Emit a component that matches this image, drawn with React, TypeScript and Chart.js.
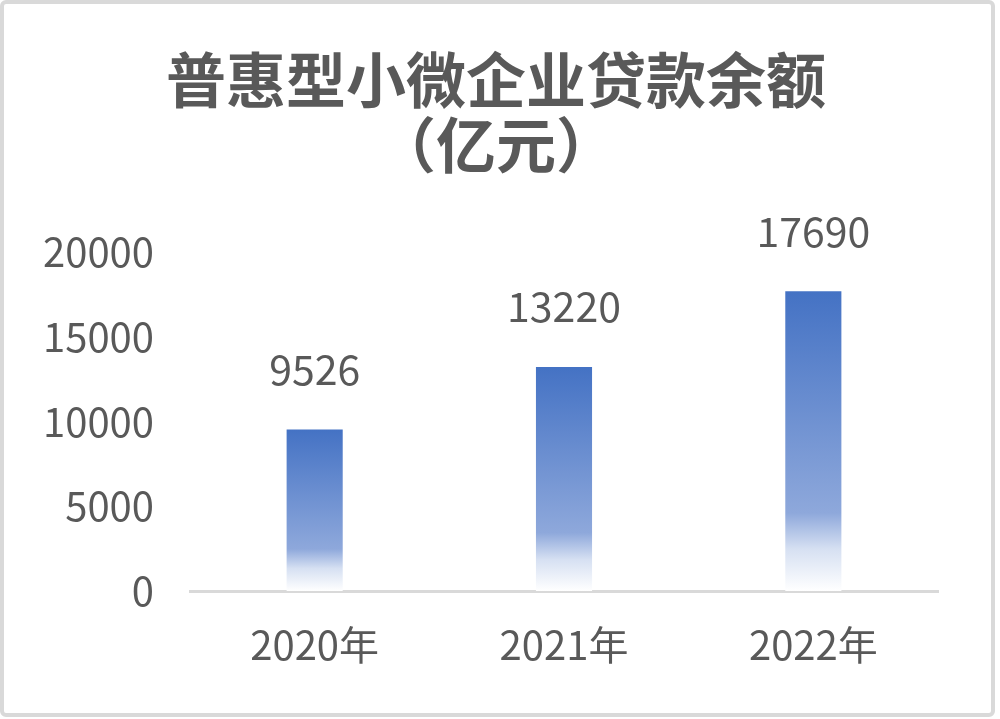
import { useEffect, useRef } from 'react';
import { Chart, registerables } from 'chart.js';

Chart.register(...registerables);

const years = ['2020年', '2021年', '2022年'];
const balances = [9526, 13220, 17690];
const yTicks = [0, 5000, 10000, 15000, 20000];
const titleLines = ['普惠型小微企业贷款余额', '（亿元）'];

const FONT = '"Noto Sans CJK SC", "Noto Sans", sans-serif';
const TEXT = '#595959';

// 画外框和标题
const framePlugin = {
  id: 'frame',
  beforeDraw(chart: Chart) {
    const { ctx, width, height } = chart;
    ctx.save();
    ctx.fillStyle = '#ffffff';
    ctx.fillRect(0, 0, width, height);
    ctx.strokeStyle = '#d9d9d9';
    ctx.lineWidth = 4;
    ctx.beginPath();
    ctx.roundRect(2, 2, 991, 713, 4);
    ctx.stroke();
    ctx.fillStyle = TEXT;
    ctx.textAlign = 'center';
    ctx.textBaseline = 'middle';
    ctx.font = `bold 60px ${FONT}`;
    ctx.fillText(titleLines[0], 496, 80);
    ctx.fillText(titleLines[1], 496, 145);
    ctx.restore();
  },
};

// 柱子上方的数值
const valueLabels = {
  id: 'valueLabels',
  afterDatasetsDraw(chart: Chart) {
    const { ctx } = chart;
    const meta = chart.getDatasetMeta(0);
    ctx.save();
    ctx.fillStyle = TEXT;
    ctx.textAlign = 'center';
    ctx.textBaseline = 'middle';
    ctx.font = `41px ${FONT}`;
    meta.data.forEach((bar: any, i: number) => {
      ctx.fillText(String(balances[i]), bar.x, bar.y - 60);
    });
    ctx.restore();
  },
};

const App = () => {
  const chartRef = useRef<HTMLCanvasElement>(null);
  const chartInstance = useRef<Chart | null>(null);

  useEffect(() => {
    document.body.style.margin = '0';
    if (!chartRef.current) return;
    if (chartInstance.current) chartInstance.current.destroy();
    const ctx = chartRef.current.getContext('2d');
    if (!ctx) return;

    chartInstance.current = new Chart(ctx, {
      type: 'bar',
      data: {
        labels: years,
        datasets: [
          {
            data: balances,
            categoryPercentage: 1,
            barPercentage: 0.225,
            backgroundColor: (c: any) => {
              const chart = c.chart;
              const y = chart.scales?.y;
              if (!y || c.raw == null) return '#4472C4';
              const top = y.getPixelForValue(c.raw);
              const bottom = y.getPixelForValue(0);
              if (!isFinite(top) || !isFinite(bottom) || bottom <= top) return '#4472C4';
              const g = chart.ctx.createLinearGradient(0, top, 0, bottom);
              g.addColorStop(0, '#4472C4');
              g.addColorStop(0.74, '#8EA8DB');
              g.addColorStop(0.86, '#D6E0F2');
              g.addColorStop(1, '#FFFFFF');
              return g;
            },
          },
        ],
      },
      options: {
        responsive: false,
        animation: false,
        layout: { padding: { top: 252, right: 62, left: 0, bottom: 0 } },
        plugins: {
          legend: { display: false },
          tooltip: { enabled: false },
        },
        scales: {
          x: {
            grid: { display: false },
            border: { color: '#d9d9d9', width: 3 },
            ticks: { color: TEXT, font: { family: FONT, size: 40 }, padding: 22 },
            afterFit: (scale: any) => {
              scale.height = 128;
            },
          },
          y: {
            min: 0,
            max: 20000,
            grid: { display: false },
            border: { display: false },
            afterBuildTicks: (scale: any) => {
              scale.ticks = yTicks.map(v => ({ value: v }));
            },
            ticks: {
              color: TEXT,
              font: { family: FONT, size: 40 },
              padding: 28,
              callback: (v: any) => String(v),
            },
            afterFit: (scale: any) => {
              scale.width = 190;
            },
          },
        },
      },
      plugins: [framePlugin, valueLabels],
    });

    return () => {
      if (chartInstance.current) {
        chartInstance.current.destroy();
        chartInstance.current = null;
      }
    };
  }, []);

  return (
    <div style={{ width: 1000, height: 719 }}>
      <canvas ref={chartRef} width={1000} height={719} />
    </div>
  );
};

export default App;
